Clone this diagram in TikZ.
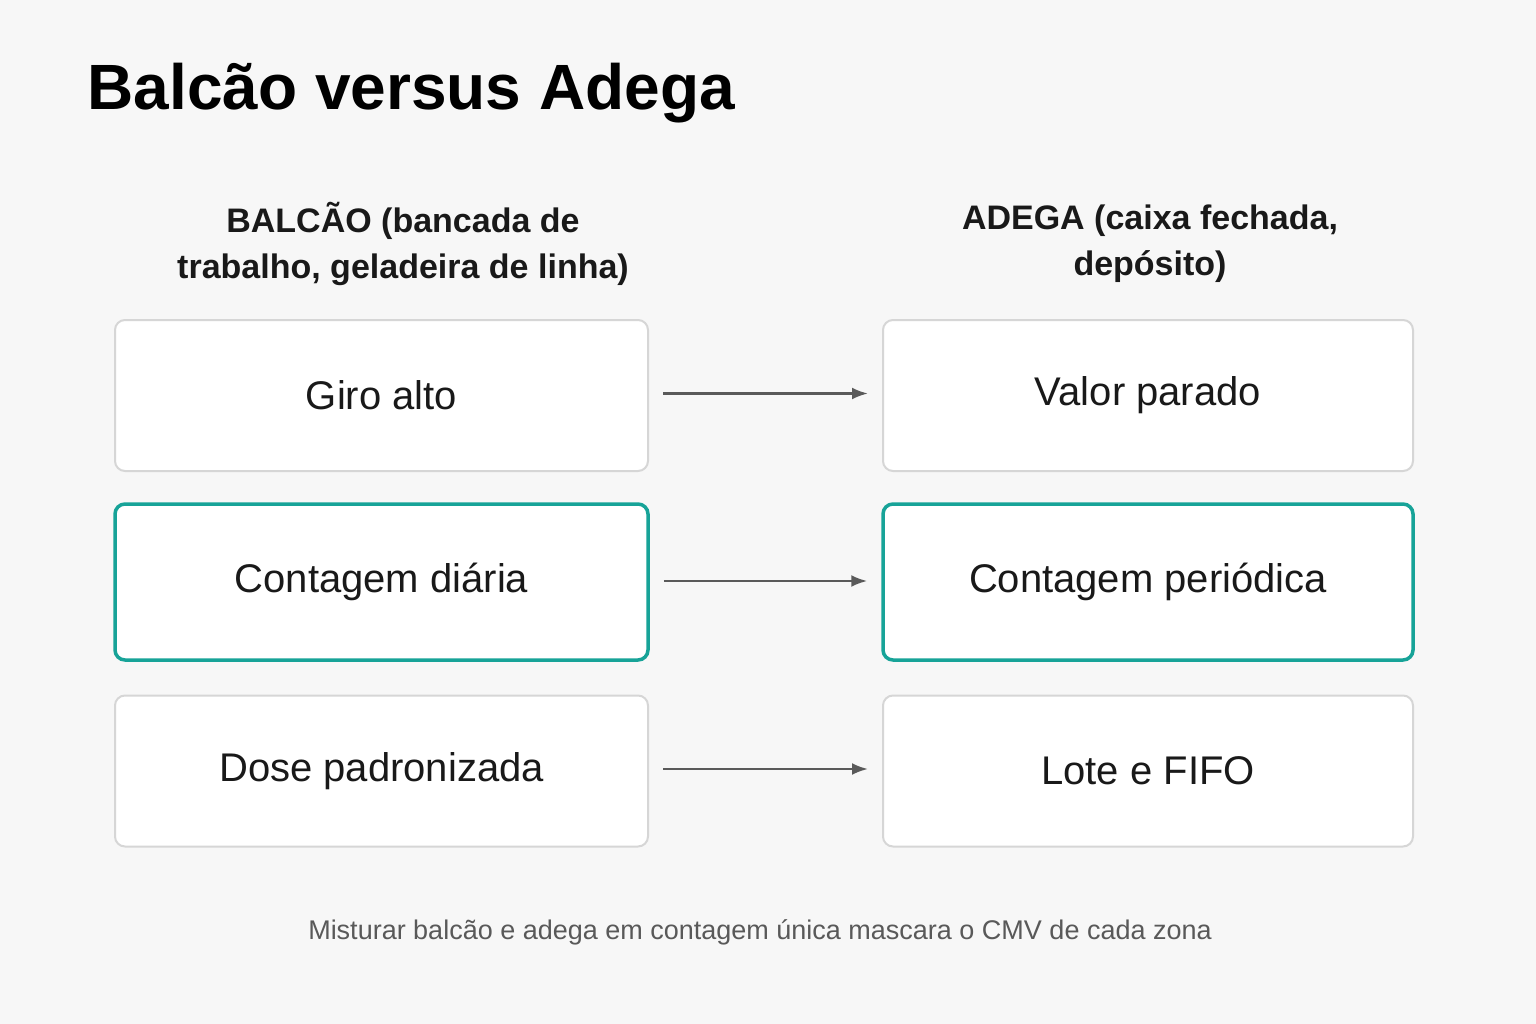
\documentclass[tikz,border=0pt]{standalone}
\usepackage{fontspec}
\setmainfont{Liberation Sans}
\usetikzlibrary{arrows.meta}
\definecolor{bg}{HTML}{F7F7F7}
\definecolor{teal}{HTML}{17A398}
\definecolor{gbord}{HTML}{D6D6D6}
\definecolor{arr}{HTML}{5A5A5A}
\begin{document}
\begin{tikzpicture}[x=1pt,y=-1pt,
 box/.style={draw=gbord,line width=2pt,fill=white,rounded corners=10pt,minimum width=533pt,minimum height=151pt,inner sep=0pt,font=\fontsize{40}{48}\selectfont,text=black!90},
 hl/.style={box,draw=teal,line width=3.5pt,minimum height=156pt},
 head/.style={font=\bfseries\fontsize{34}{46}\selectfont,align=center,text=black!90},
 con/.style={draw=arr,line width=2.5pt,-{Latex[length=16pt,width=12pt]}}]
\fill[bg] (0,0) rectangle (1536,1024);
\useasboundingbox (0,0) rectangle (1536,1024);
\node[anchor=west,font=\bfseries\fontsize{64}{70}\selectfont] (title) at (84,93) {Balcão versus Adega};
\node[head] (hl1) at (403,244) {BALCÃO (bancada de\\trabalho, geladeira de linha)};
\node[head] (hr1) at (1150,244) {ADEGA (caixa fechada,\\depósito)};
\node[box] (l1) at (381.5,395.5) {Giro alto};
\node[hl] (l2) at (381.5,582) {Contagem diária};
\node[box] (l3) at (381.5,771) {Dose padronizada};
\node[box,minimum width=530pt] (r1) at (1148,395.5) {Valor parado};
\node[hl,minimum width=530pt] (r2) at (1148,582) {Contagem periódica};
\node[box,minimum width=530pt] (r3) at (1148,771) {Lote e FIFO};
\draw[con] ([xshift=14pt,yshift=2pt]l1.east) -- ([xshift=-14pt,yshift=2pt]r1.west);
\draw[con] ([xshift=14pt,yshift=1pt]l2.east) -- ([xshift=-14pt,yshift=1pt]r2.west);
\draw[con] ([xshift=14pt,yshift=2pt]l3.east) -- ([xshift=-14pt,yshift=2pt]r3.west);
\node[font=\fontsize{27}{30}\selectfont,text=black!65] (foot) at (760,932) {Misturar balcão e adega em contagem única mascara o CMV de cada zona};
\end{tikzpicture}
\end{document}
